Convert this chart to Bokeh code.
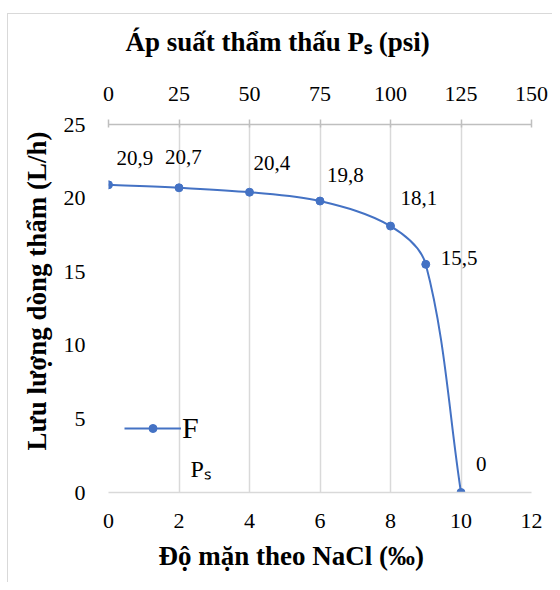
import numpy as np
from bokeh.plotting import figure
from bokeh.models import (Range1d, LinearAxis, FixedTicker, Label, Legend,
                          LegendItem, ColumnDataSource, Title)
from bokeh.embed import file_html
from bokeh.resources import INLINE
from bokeh.core.properties import value

# ---- data ----
salinity = [0, 2, 4, 6, 8, 9, 10]
flow = [20.9, 20.7, 20.4, 19.8, 18.1, 15.5, 0]
flow_labels = ["20,9", "20,7", "20,4", "19,8", "18,1", "15,5", "0"]
x_ticks = [0, 2, 4, 6, 8, 10, 12]
y_ticks = [0, 5, 10, 15, 20, 25]
ps_ticks = [0, 25, 50, 75, 100, 125, 150]

# label offsets (pixels, styling)
label_dx = [8, -14, 4, 7, 10, 15, 15]
label_dy = [-27, -31, -29, -26, -28, -6, -29]

SERIF = "Liberation Serif"
BLUE = "#4472C4"
GRID = "#d9d9d9"

W, H = 552, 582
BL, BR, BT, BB = 108, 21, 124, 90
FRAME_W, FRAME_H = W - BL - BR, H - BT - BB
X0, X1, Y0, Y1 = 0, 12, 0, 25

p = figure(width=W, height=H, x_range=Range1d(X0, X1), y_range=Range1d(Y0, Y1),
           output_backend="svg", toolbar_location=None,
           min_border_left=BL, min_border_right=BR,
           min_border_top=BT, min_border_bottom=BB)
p.styles = {
    "background-image": "linear-gradient(#d9d9d9,#d9d9d9), linear-gradient(#d9d9d9,#d9d9d9)",
    "background-size": "1px 100%, 100% 1px",
    "background-position": "7px 13px, 7px 13px",
    "background-repeat": "no-repeat",
}
p.border_fill_color = None
p.outline_line_color = None
p.background_fill_color = "white"

# grids
p.ygrid.grid_line_color = None
p.xgrid.grid_line_color = GRID
p.xgrid.grid_line_width = 1.5
p.xgrid.ticker = FixedTicker(ticks=x_ticks)

# bottom axis
xa = p.xaxis[0]
xa.ticker = FixedTicker(ticks=x_ticks)
xa.axis_line_color = GRID
xa.axis_line_width = 1.5
xa.major_tick_line_color = None
xa.minor_tick_line_color = None
xa.major_label_text_font = SERIF
xa.major_label_text_font_size = "22px"
xa.major_label_text_color = "black"
xa.major_label_standoff = 15

# left axis
ya = p.yaxis[0]
ya.ticker = FixedTicker(ticks=y_ticks)
ya.axis_line_color = None
ya.major_tick_line_color = None
ya.minor_tick_line_color = None
ya.major_label_text_font = SERIF
ya.major_label_text_font_size = "22px"
ya.major_label_text_color = "black"
ya.major_label_standoff = 17

# top axis (osmotic pressure)
p.extra_x_ranges = {"ps": Range1d(0, 150)}
ta = LinearAxis(x_range_name="ps", ticker=FixedTicker(ticks=ps_ticks))
ta.axis_line_color = "#bfbfbf"
ta.axis_line_width = 1.5
ta.major_tick_line_color = "#bfbfbf"
ta.major_tick_line_width = 1.5
ta.major_tick_in = 3
ta.major_tick_out = 5
ta.minor_tick_line_color = None
ta.major_label_text_font = SERIF
ta.major_label_text_font_size = "22px"
ta.major_label_text_color = "black"
ta.major_label_standoff = 19
p.add_layout(ta, "above")

# smoothed curve: cubic Bezier segments built from the data points,
# tangents computed in screen proportions
kx = FRAME_W / (X1 - X0)
ky = FRAME_H / (Y1 - Y0)
xs = np.array(salinity, dtype=float) * kx
ys = np.array(flow, dtype=float) * ky
n = len(xs)
tx = np.zeros(n); ty = np.zeros(n)
for i in range(n):
    a = max(i - 1, 0); b = min(i + 1, n - 1)
    dx, dy = xs[b] - xs[a], ys[b] - ys[a]
    L = np.hypot(dx, dy)
    tx[i], ty[i] = dx / L, dy / L
seg = dict(x0=[], y0=[], x1=[], y1=[], cx0=[], cy0=[], cx1=[], cy1=[])
for i in range(n - 1):
    L = np.hypot(xs[i + 1] - xs[i], ys[i + 1] - ys[i]) / 3
    seg["x0"].append(xs[i] / kx); seg["y0"].append(ys[i] / ky)
    seg["x1"].append(xs[i + 1] / kx); seg["y1"].append(ys[i + 1] / ky)
    seg["cx0"].append((xs[i] + tx[i] * L) / kx)
    seg["cy0"].append((ys[i] + ty[i] * L) / ky)
    seg["cx1"].append((xs[i + 1] - tx[i + 1] * L) / kx)
    seg["cy1"].append((ys[i + 1] - ty[i + 1] * L) / ky)
curve = p.bezier(x0="x0", y0="y0", x1="x1", y1="y1", cx0="cx0", cy0="cy0",
                 cx1="cx1", cy1="cy1", source=ColumnDataSource(seg),
                 line_color=BLUE, line_width=2)

src = ColumnDataSource(dict(x=salinity, y=flow, lab=flow_labels,
                            dx=label_dx, dy=label_dy))
pts = p.scatter("x", "y", source=src, size=8, fill_color=BLUE, line_color=BLUE)
p.text("x", "y", text="lab", source=src, x_offset="dx", y_offset="dy",
       text_font=value(SERIF), text_font_size="21px", text_color="black",
       text_align="left", text_baseline="middle")

# legend
legend = Legend(items=[LegendItem(label="F", renderers=[curve, pts])],
                location=(16, 47), padding=0, margin=0, spacing=0,
                glyph_width=57, glyph_height=20, label_standoff=1,
                label_text_font=SERIF, label_text_font_size="30px",
                label_text_color="black",
                background_fill_alpha=0, border_line_alpha=0)
p.add_layout(legend, "center")
p.add_layout(Label(x=82, y=24, x_units="screen", y_units="screen", text="Pₛ",
                   text_font=SERIF, text_font_size="24px", text_color="black",
                   text_baseline="middle", text_align="left"))

# titles
def make_title(txt, offset, standoff, valign):
    return Title(text=txt, align="left", offset=offset, standoff=standoff,
                 vertical_align=valign, text_font=SERIF, text_font_size="27px",
                 text_font_style="bold", text_color="black")

p.add_layout(make_title("Áp suất thẩm thấu Pₛ (psi)", 17, 50, "top"), "above")
p.add_layout(make_title("Độ mặn theo NaCl (‰)", 50, 16, "bottom"), "below")
p.add_layout(make_title("Lưu lượng dòng thẩm (L/h)", 42, 16, "middle"), "left")

open("out.html", "w").write(file_html(p, INLINE))
